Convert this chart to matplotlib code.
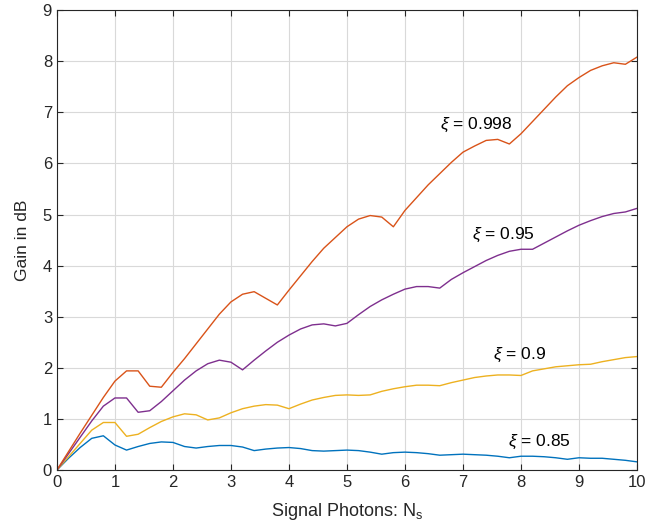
import numpy as np
import matplotlib
matplotlib.use('Agg')
from matplotlib import pyplot as plt

plt.rcParams['font.family'] = ['Liberation Sans', 'DejaVu Sans']
plt.rcParams['mathtext.fontset'] = 'custom'
plt.rcParams['mathtext.rm'] = 'Liberation Sans'
plt.rcParams['mathtext.it'] = 'Liberation Sans:italic'

# signal photon counts, step 0.2
ns = np.round(np.arange(0, 10.01, 0.2), 1)

gain_085 = [0, 0.23, 0.44, 0.62, 0.67, 0.49, 0.39, 0.46, 0.52, 0.55, 0.54,
            0.46, 0.43, 0.46, 0.48, 0.48, 0.45, 0.38, 0.41, 0.43, 0.44,
            0.42, 0.38, 0.37, 0.38, 0.39, 0.38, 0.35, 0.31, 0.34, 0.35,
            0.34, 0.32, 0.29, 0.30, 0.31, 0.30, 0.29, 0.27, 0.24, 0.27,
            0.27, 0.26, 0.24, 0.21, 0.24, 0.23, 0.23, 0.21, 0.19, 0.16]
gain_090 = [0, 0.26, 0.52, 0.78, 0.93, 0.93, 0.66, 0.70, 0.83, 0.95, 1.04,
            1.10, 1.08, 0.98, 1.02, 1.12, 1.20, 1.25, 1.28, 1.27, 1.20,
            1.29, 1.37, 1.42, 1.46, 1.47, 1.46, 1.47, 1.54, 1.59, 1.63,
            1.66, 1.66, 1.65, 1.71, 1.76, 1.81, 1.84, 1.86, 1.86, 1.85,
            1.94, 1.98, 2.02, 2.04, 2.06, 2.07, 2.12, 2.16, 2.20, 2.22]
gain_095 = [0, 0.32, 0.64, 0.96, 1.25, 1.41, 1.41, 1.13, 1.16, 1.34, 1.55,
            1.76, 1.94, 2.08, 2.15, 2.11, 1.96, 2.15, 2.33, 2.50, 2.64,
            2.76, 2.84, 2.86, 2.82, 2.87, 3.04, 3.20, 3.33, 3.44, 3.54,
            3.59, 3.59, 3.56, 3.73, 3.86, 3.98, 4.10, 4.20, 4.28, 4.32,
            4.32, 4.44, 4.56, 4.68, 4.79, 4.88, 4.96, 5.02, 5.05, 5.12]
gain_0998 = [0, 0.36, 0.72, 1.07, 1.42, 1.74, 1.94, 1.94, 1.64, 1.62, 1.91,
             2.18, 2.47, 2.76, 3.05, 3.29, 3.44, 3.49, 3.36, 3.23, 3.52,
             3.80, 4.08, 4.34, 4.55, 4.76, 4.91, 4.98, 4.95, 4.76, 5.08,
             5.33, 5.58, 5.80, 6.02, 6.22, 6.34, 6.45, 6.47, 6.38, 6.58,
             6.82, 7.06, 7.30, 7.52, 7.68, 7.82, 7.91, 7.97, 7.94, 8.08]

fig = plt.figure(figsize=(6.47, 5.32), dpi=100)
ax = fig.add_axes([0.088, 0.1165, 0.8965, 0.8645])

ax.plot(ns, gain_085, color='#0072BD', lw=1.0)
ax.plot(ns, gain_090, color='#EDB120', lw=1.0)
ax.plot(ns, gain_095, color='#7E2F8E', lw=1.0)
ax.plot(ns, gain_0998, color='#D95319', lw=1.0)

# curve labels
ax.text(6.6, 6.75, r'$\xi$ = 0.998', fontsize=12.5, va='center')
ax.text(7.16, 4.6, r'$\xi$ = 0.95', fontsize=12.5, va='center')
ax.text(7.52, 2.25, r'$\xi$ = 0.9', fontsize=12.5, va='center')
ax.text(7.78, 0.55, r'$\xi$ = 0.85', fontsize=12.5, va='center')

ax.set_xlim(0, 10)
ax.set_ylim(0, 9)
ax.set_xticks(range(0, 11))
ax.set_yticks(range(0, 10))
ax.grid(True, color='#d9d9d9', lw=0.8)
ax.set_axisbelow(True)
ax.tick_params(direction='in', top=True, right=True, labelsize=12,
               color='#262626', labelcolor='#262626', length=4)
for s in ax.spines.values():
    s.set_color('#262626')
    s.set_linewidth(0.8)

ax.set_xlabel(r'Signal Photons: N$_\mathregular{s}$', fontsize=13,
              color='#262626', labelpad=8)
ax.set_ylabel('Gain in dB', fontsize=12.5, color='#262626', labelpad=9)

fig.savefig('out.png', dpi=100)
